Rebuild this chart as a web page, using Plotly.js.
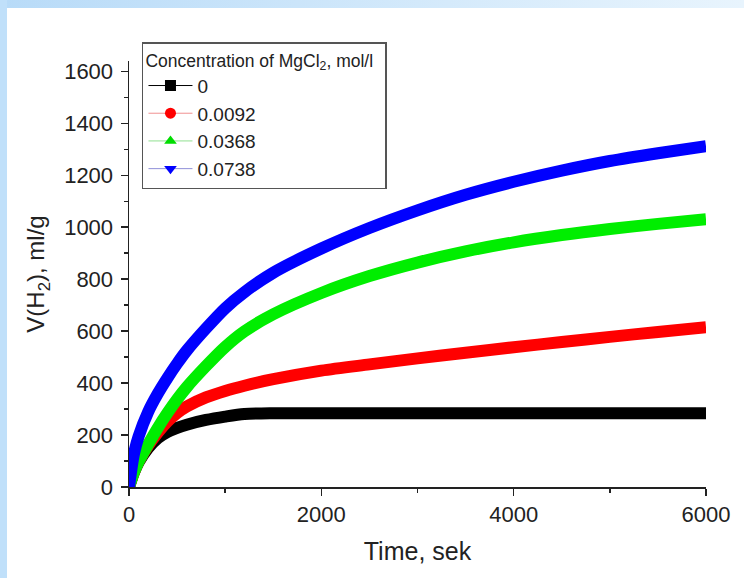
<!DOCTYPE html>
<html>
<head>
<meta charset="utf-8">
<script src="https://cdn.plot.ly/plotly-3.0.1.min.js"></script>
<style>
html,body{margin:0;padding:0;}
#wrap{position:relative;width:744px;height:578px;overflow:hidden;background:linear-gradient(to right,#b8dbf8,#e8f4fd);}
#leftband{position:absolute;left:0;top:0;width:7px;height:578px;background:#c0e0fa;}
#chart{position:absolute;left:7px;top:8px;width:737px;height:570px;background:#fff;}
</style>
</head>
<body>
<div id="wrap"><div id="leftband"></div><div id="chart"></div></div>
<script>
// Time, sek
const time = [0, 50, 100, 200, 300, 400, 500, 600, 800, 1000, 1200, 1500, 2000, 2500, 3000, 3500, 4000, 4500, 5000, 5500, 6000];
// V(H2), ml/g for each MgCl2 concentration
const c0      = [0, 55, 95, 150, 188, 212, 228, 240, 258, 271, 281, 284, 284, 284, 284, 284, 284, 284, 284, 284, 284];
const c0092   = [0, 55, 98, 160, 210, 252, 285, 310, 345, 370, 390, 415, 448, 472, 495, 517, 538, 558, 578, 597, 615];
const c0368   = [0, 55, 98, 165, 228, 285, 337, 384, 465, 539, 599, 665, 747, 812, 864, 907, 942, 970, 993, 1013, 1031];
const c0738   = [0, 125, 195, 290, 360, 420, 475, 525, 610, 688, 750, 825, 918, 997, 1065, 1125, 1175, 1218, 1255, 1285, 1312];

const seriesNames = ['0', '0.0092', '0.0368', '0.0738'];
const seriesData = [c0, c0092, c0368, c0738];
const curveColors = ['#000000', '#ff0000', '#00ee00', '#0000ff'];
const legendLineColors = ['#000000', '#f09090', '#90e090', '#9090d8'];
const legendMarkerColors = ['#000000', '#ff0000', '#00dd00', '#0000ff'];
const legendSymbols = ['square', 'circle', 'triangle-up', 'triangle-down'];

const font = 'Arial, "Liberation Sans", sans-serif';
const traces = [];
seriesData.forEach((ys, i) => {
  traces.push({
    x: time, y: ys, type: 'scatter', mode: 'lines',
    line: {color: curveColors[i], width: 12, shape: 'spline', smoothing: 0.8},
    showlegend: false, hoverinfo: 'skip'
  });
});
seriesNames.forEach((name, i) => {
  traces.push({
    x: [null], y: [null], type: 'scatter', mode: 'lines+markers', name: name,
    line: {color: legendLineColors[i], width: 1},
    marker: {symbol: legendSymbols[i], size: 11, color: legendMarkerColors[i]}
  });
});

const layout = {
  width: 737, height: 570,
  margin: {l: 122, r: 38, t: 52.6, b: 91},
  paper_bgcolor: '#ffffff', plot_bgcolor: '#ffffff',
  font: {family: font, color: '#222', size: 20},
  showlegend: true,
  legend: {
    x: 0.0225, y: 1.0436, xanchor: 'left', yanchor: 'top',
    bordercolor: '#555', borderwidth: 1.5, bgcolor: '#ffffff',
    itemwidth: 44,
    font: {family: font, size: 19, color: '#222'},
    title: {text: 'Concentration of MgCl<sub>2</sub>, mol/l&nbsp;&nbsp;', font: {family: font, size: 17.5, color: '#222'}},
    tracegroupgap: 0
  },
  xaxis: {
    range: [0, 6000], tick0: 0, dtick: 2000,
    showline: true, linecolor: '#222', linewidth: 1.5,
    ticks: 'outside', ticklen: 7, tickwidth: 1.5, tickcolor: '#222',
    minor: {ticks: 'outside', ticklen: 4, tickwidth: 1.5, tickcolor: '#222', dtick: 1000, showgrid: false},
    showgrid: false, zeroline: false,
    tickfont: {size: 22},
    title: {text: 'Time, sek', font: {size: 25}, standoff: 16}
  },
  yaxis: {
    range: [0, 1640], tick0: 0, dtick: 200,
    showline: true, linecolor: '#222', linewidth: 1.5,
    ticks: 'outside', ticklen: 7, tickwidth: 1.5, tickcolor: '#222',
    minor: {ticks: 'outside', ticklen: 4, tickwidth: 1.5, tickcolor: '#222', dtick: 100, showgrid: false},
    showgrid: false, zeroline: false,
    tickfont: {size: 22}, ticklabelstandoff: 3,
    title: {text: 'V(H<sub>2</sub>), ml/g', font: {size: 24}, standoff: 12}
  }
};

Plotly.newPlot('chart', traces, layout, {displayModeBar: false, staticPlot: true});
</script>
</body>
</html>
